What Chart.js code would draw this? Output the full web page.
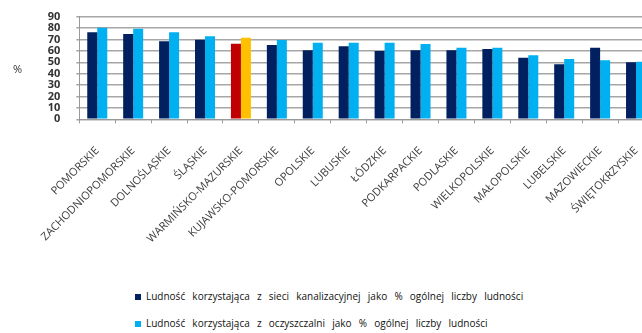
<!DOCTYPE html>
<html>
<head>
<meta charset="utf-8">
<script src="https://cdn.jsdelivr.net/npm/chart.js@4"></script>
<style>
  html, body { margin: 0; padding: 0; background: #fff; overflow: hidden; }
  #wrap { position: relative; width: 654px; height: 333px; }
  #box { position: absolute; left: 0; top: 0; width: 654px; height: 250px; }
  #pct { position: absolute; left: 13px; top: 61px; font: 11px "Open Sans", sans-serif; color: #333; }
  .leg { position: absolute; left: 135px; font: 10px "Open Sans", sans-serif; color: #111; white-space: nowrap; word-spacing: 4.6px; }
  .leg i { display: inline-block; width: 6px; height: 6px; margin-right: 5px; vertical-align: 0px; }
</style>
</head>
<body>
<div id="wrap">
  <div id="box"><canvas id="c"></canvas></div>
  <div id="pct">%</div>
  <div id="legend"></div>
</div>
<script>
const categories = ["POMORSKIE","ZACHODNIOPOMORSKIE","DOLNOŚLĄSKIE","ŚLĄSKIE","WARMIŃSKO-MAZURSKIE","KUJAWSKO-POMORSKIE","OPOLSKIE","LUBUSKIE","ŁÓDZKIE","PODKARPACKIE","PODLASKIE","WIELKOPOLSKIE","MAŁOPOLSKIE","LUBELSKIE","MAZOWIECKIE","ŚWIĘTOKRZYSKIE"];
const seriesNames = ["Ludność korzystająca z sieci kanalizacyjnej jako % ogólnej liczby ludności","Ludność korzystająca z oczyszczalni jako % ogólnej liczby ludności"];
const kanalizacja = [76.3,74.8,68.4,69.8,66.3,65.2,60.5,64.0,59.9,60.5,60.5,61.7,54.0,48.2,62.8,50.0];
const oczyszczalnie = [80.4,79.5,76.3,72.8,71.6,69.6,67.2,67.2,67.2,66.1,62.8,62.8,56.1,52.9,51.8,50.5];
const yTicks = [0,10,20,30,40,50,60,70,80,90];
const highlighted = "WARMIŃSKO-MAZURSKIE";

const baseColors = ["#002060","#00B0F0"];
const hiColors = ["#C00000","#FFC000"];
const colorsFor = (i) => categories.map(c => c === highlighted ? hiColors[i] : baseColors[i]);

const leg = document.getElementById('legend');
seriesNames.forEach((n, i) => {
  const d = document.createElement('div');
  d.className = 'leg';
  d.style.top = (i === 0 ? 289 : 316) + 'px';
  d.innerHTML = '<i style="background:' + baseColors[i] + '"></i>' + n;
  leg.appendChild(d);
});

new Chart(document.getElementById('c'), {
  type: 'bar',
  data: {
    labels: categories,
    datasets: [
      { label: seriesNames[0], data: kanalizacja, backgroundColor: colorsFor(0), categoryPercentage: 0.557, barPercentage: 1 },
      { label: seriesNames[1], data: oczyszczalnie, backgroundColor: colorsFor(1), categoryPercentage: 0.557, barPercentage: 1 }
    ]
  },
  options: {
    responsive: true,
    maintainAspectRatio: false,
    animation: false,
    layout: { padding: { top: 16.7, right: 0, left: 0, bottom: 0 } },
    plugins: { legend: { display: false }, tooltip: { enabled: false } },
    scales: {
      x: {
        grid: { drawOnChartArea: false, drawTicks: true, tickLength: 4, color: '#999', offset: true },
        border: { color: '#999', width: 1 },
        ticks: { minRotation: 45, maxRotation: 45, autoSkip: false, padding: 21, color: '#404040', font: { family: 'Open Sans', size: 11 } },
        afterFit: (s) => { s.height = 250 - 119.3; s.paddingLeft = 0; s.paddingRight = 0; }
      },
      y: {
        min: 0, max: 90,
        afterBuildTicks: (s) => { s.ticks = yTicks.map(v => ({ value: v })); },
        grid: { color: '#A6A6A6', lineWidth: 1.5, tickLength: 3 },
        border: { color: '#999', width: 1 },
        ticks: { autoSkip: false, padding: 16, color: '#333', font: { family: 'Open Sans', size: 11, weight: 'bold' } },
        afterFit: (s) => { s.width = 79.3; s.paddingTop = 0; s.paddingBottom = 0; }
      }
    }
  }
});
</script>
</body>
</html>
